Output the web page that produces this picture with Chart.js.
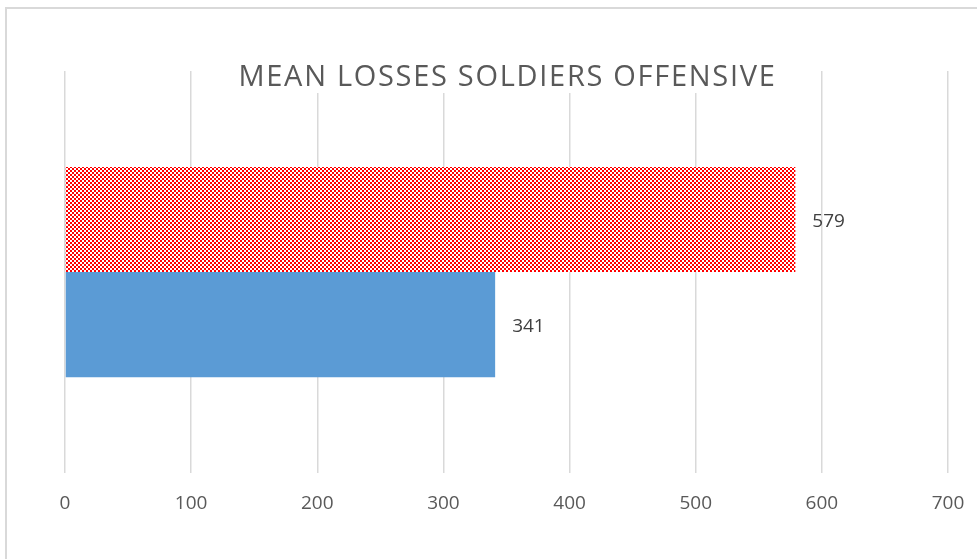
<!DOCTYPE html>
<html>
<head>
<meta charset="utf-8">
<script src="https://cdn.jsdelivr.net/npm/chart.js@4"></script>
<style>
  body { margin: 0; background: #fff; overflow: hidden; }
  #frame { position: absolute; left: 5px; top: 7px; width: 990px; height: 570px; border: 2px solid #d9d9d9; box-sizing: border-box; }
  #chart { position: absolute; left: 0; top: 0; }
</style>
</head>
<body>
<div id="frame"></div>
<canvas id="chart" width="977" height="559"></canvas>
<script>
// chart data
const chartTitle = 'MEAN LOSSES SOLDIERS OFFENSIVE';
const categories = ['Soldiers'];
const seriesNames = ['Series 2', 'Series 1'];
const redValues = [579];
const blueValues = [341];
const axisMin = 0;
const axisMax = 700;
const axisStep = 100;

// red / white checker fill
function makeChecker(color){
    const c = document.createElement('canvas');
    c.width = 4;
    c.height = 4;
    const g = c.getContext('2d');
    g.fillStyle = '#ffffff';
    g.fillRect(0, 0, 4, 4);
    g.fillStyle = color;
    g.fillRect(0, 0, 2, 2);
    g.fillRect(2, 2, 2, 2);
    return g.createPattern(c, 'repeat');
}

const fontFamily = '"Open Sans", "DejaVu Sans", sans-serif';

const valueLabels = {
    id: 'valueLabels',
    afterDatasetsDraw(chart){
        const ctx = chart.ctx;
        ctx.save();
        ctx.font = '19px ' + fontFamily;
        ctx.fillStyle = '#404040';
        ctx.textAlign = 'left';
        ctx.textBaseline = 'middle';
        chart.data.datasets.forEach((ds, i) => {
            chart.getDatasetMeta(i).data.forEach((bar, j) => {
                ctx.fillText(ds.data[j], bar.x + 17, bar.y + 2);
            });
        });
        ctx.restore();
    }
};

const overlayTitle = {
    id: 'overlayTitle',
    afterDraw(chart){
        const ctx = chart.ctx;
        const area = chart.chartArea;
        const cx = (area.left + area.right) / 2;
        ctx.save();
        ctx.font = '29px ' + fontFamily;
        ctx.letterSpacing = '1.7px';
        const w = ctx.measureText(chartTitle).width;
        ctx.fillStyle = '#ffffff';
        ctx.fillRect(cx - w / 2 - 6, 60, w + 12, 33);
        ctx.fillStyle = '#595959';
        ctx.textAlign = 'center';
        ctx.textBaseline = 'middle';
        ctx.fillText(chartTitle, cx + 1, 78);
        ctx.restore();
    }
};

const ctx = document.getElementById('chart').getContext('2d');
const chart = new Chart(ctx, {
    type: 'bar',
    data: {
        labels: categories,
        datasets: [
            {
                label: seriesNames[0],
                data: redValues,
                backgroundColor: makeChecker('#ff0000'),
                borderWidth: 0
            },
            {
                label: seriesNames[1],
                data: blueValues,
                backgroundColor: '#5b9bd5',
                borderWidth: 0
            }
        ]
    },
    options: {
        indexAxis: 'y',
        responsive: false,
        animation: false,
        categoryPercentage: 0.523,
        barPercentage: 1.0,
        layout: {
            padding: { left: 65, right: 29, top: 71, bottom: 25 }
        },
        plugins: {
            legend: { display: false },
            title: { display: false },
            tooltip: { enabled: false }
        },
        scales: {
            x: {
                min: axisMin,
                max: axisMax,
                afterFit: scale => {
                    scale.paddingLeft = 0;
                    scale.paddingRight = 0;
                },
                ticks: {
                    stepSize: axisStep,
                    color: '#595959',
                    padding: 19,
                    font: { family: fontFamily, size: 19 }
                },
                grid: {
                    color: '#d9d9d9',
                    lineWidth: 1.5,
                    drawTicks: false
                },
                border: { display: false }
            },
            y: {
                display: false
            }
        }
    },
    plugins: [valueLabels, overlayTitle]
});
</script>
</body>
</html>
